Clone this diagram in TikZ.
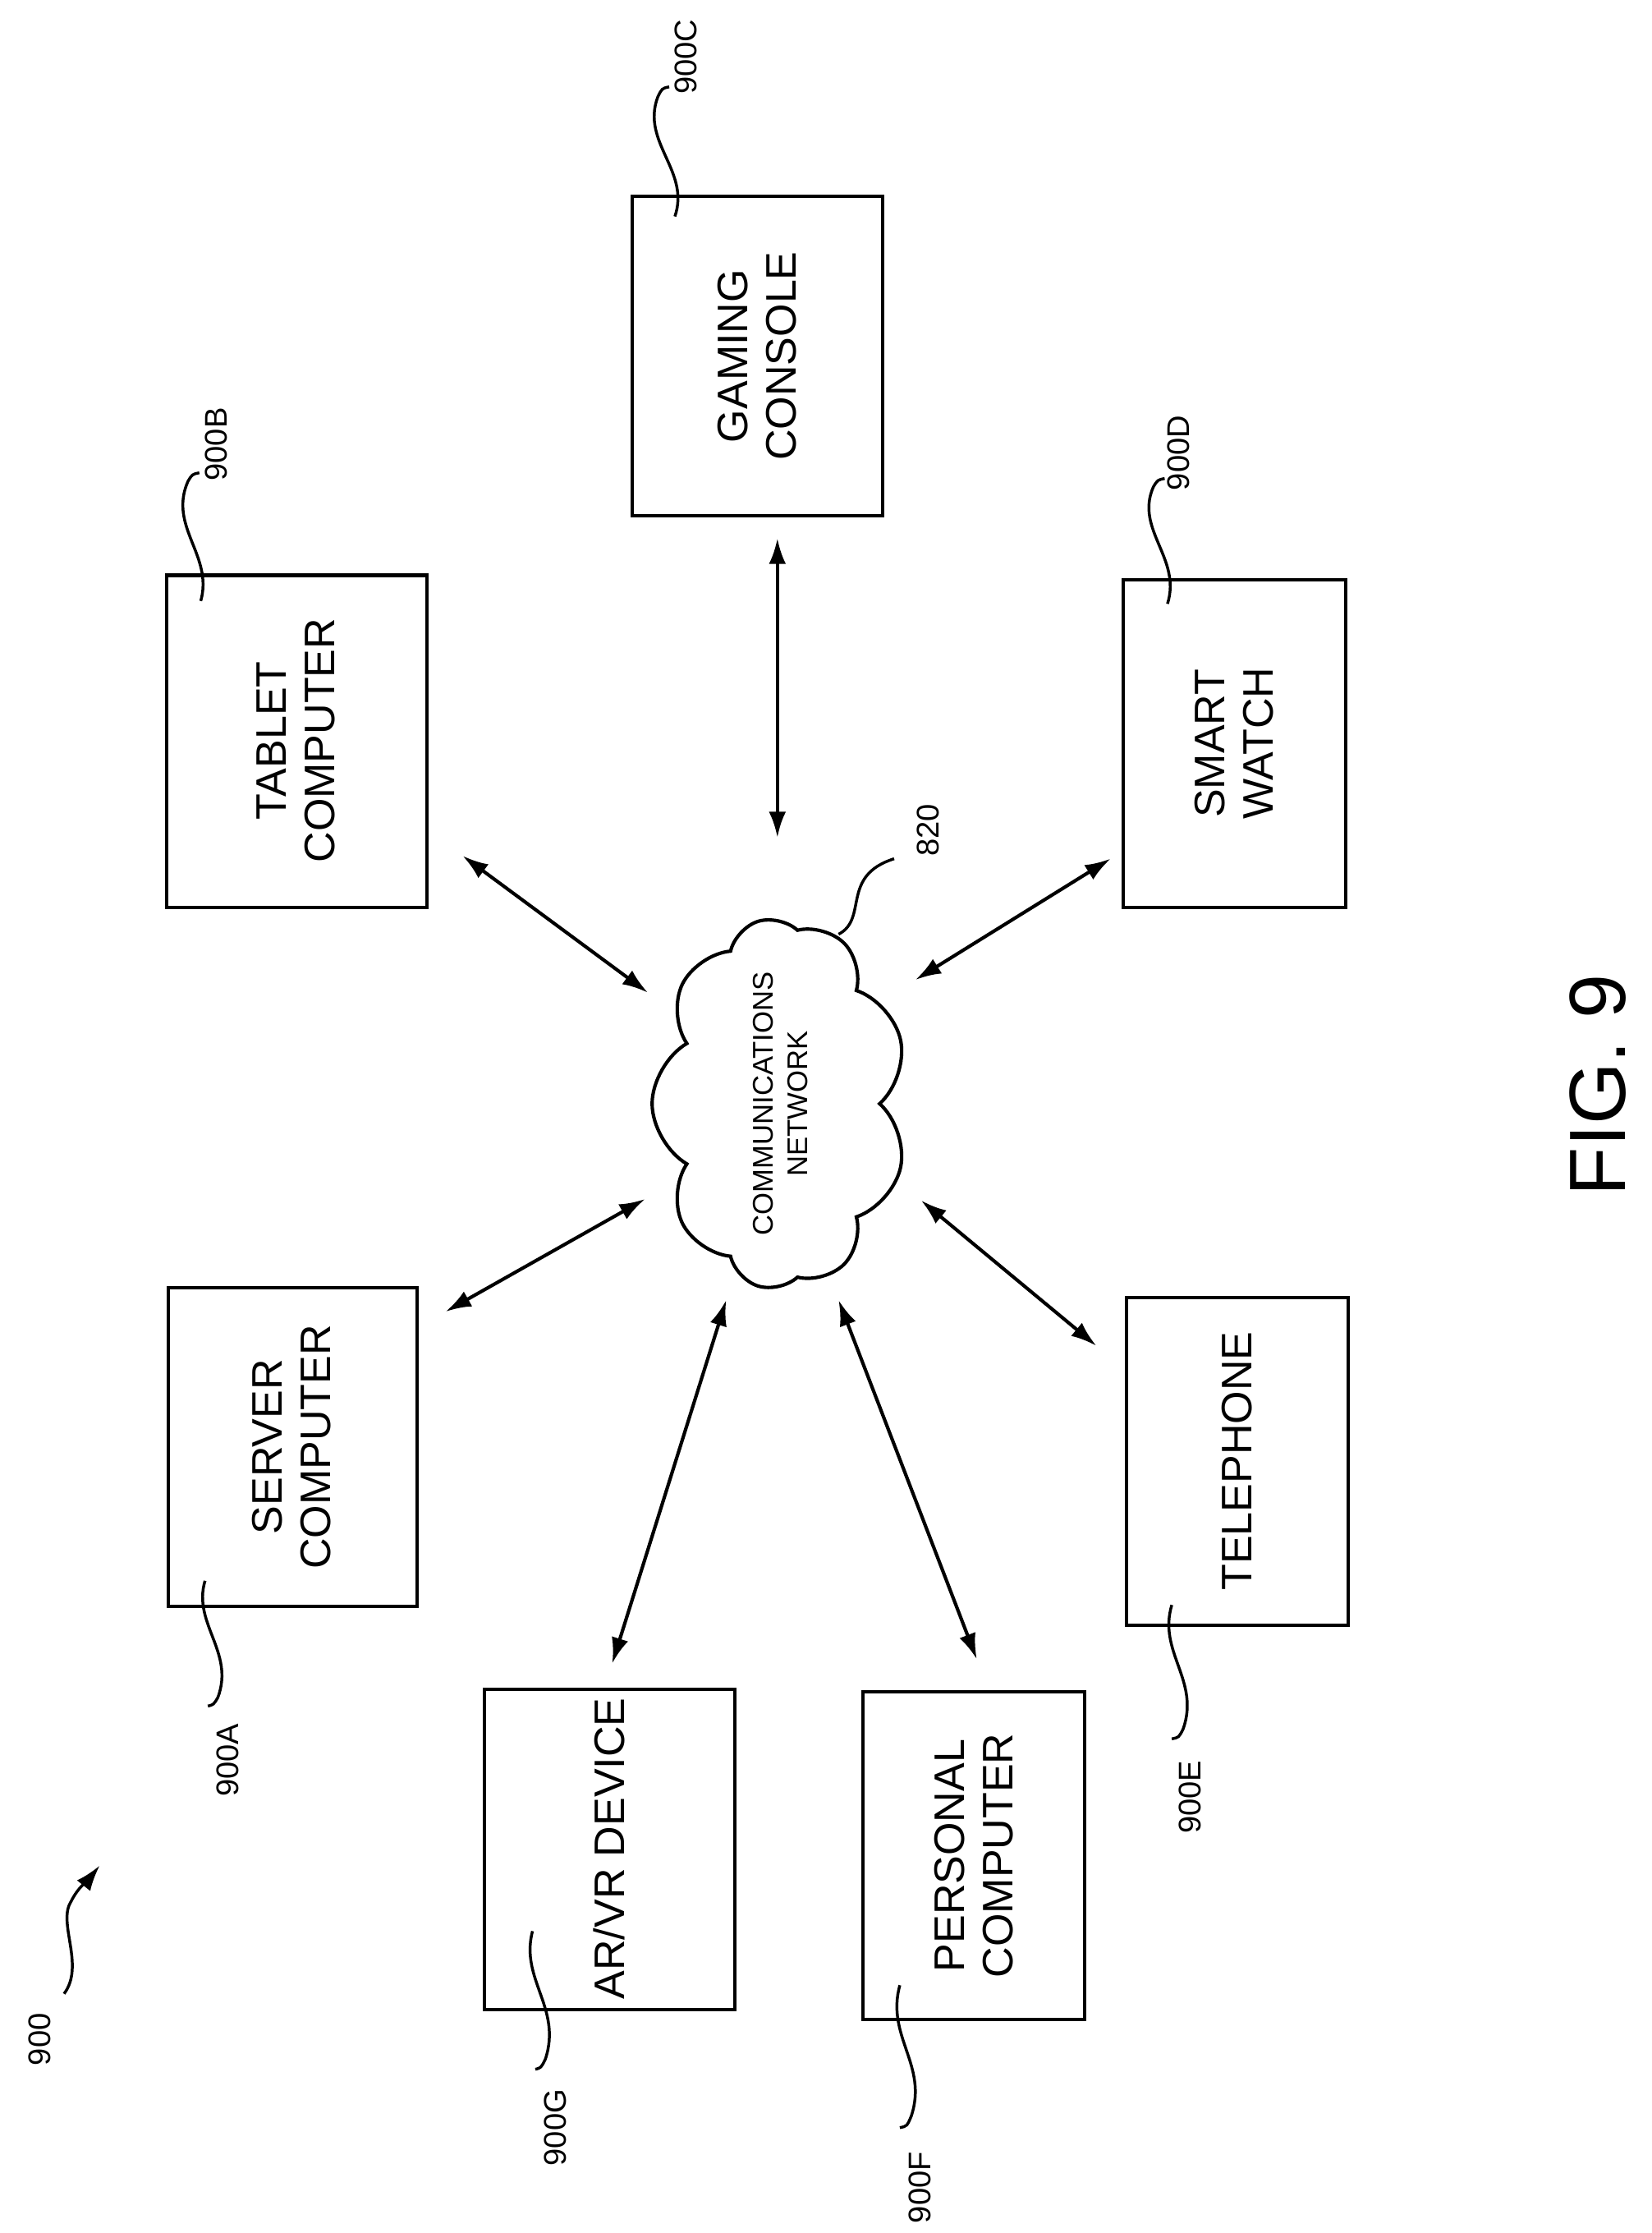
\documentclass[tikz,border=0pt]{standalone}
\usepackage{fontspec}
\setmainfont{Liberation Sans}
\usetikzlibrary{shapes.symbols,arrows.meta}
\begin{document}
\begin{tikzpicture}[x=0.5pt,y=-0.5pt,
 box/.style={draw,line width=1.2pt,inner sep=0pt},
 txt/.style={rotate=90,align=center,font=\fontsize{15}{17}\selectfont},
 lab/.style={rotate=90,font=\fontsize{11}{13}\selectfont},
 arr/.style={line width=1.2pt,{Latex[length=9pt,width=6pt]}-{Latex[length=9pt,width=6pt]}},
 ld/.style={line width=1pt}]
\useasboundingbox (0,0) rectangle (1160,1568);
\draw[box] (117,404) rectangle (300,637); \node[txt] (tab) at (208,520) {TABLET\\COMPUTER};
\draw[box] (444,138) rectangle (620,362); \node[txt] (gam) at (532,250) {GAMING\\CONSOLE};
\draw[box] (789,407) rectangle (945,637); \node[txt] (sw) at (867,522) {SMART\\WATCH};
\draw[box] (118,904) rectangle (293,1128); \node[txt] (srv) at (205,1016) {SERVER\\COMPUTER};
\draw[box] (791,911) rectangle (947,1141); \node[txt] (tel) at (869,1026) {TELEPHONE};
\draw[box] (340,1186) rectangle (516,1411); \node[txt] (ar) at (428,1298) {AR/VR DEVICE};
\draw[box] (606,1188) rectangle (762,1418); \node[txt] (pc) at (684,1303) {PERSONAL\\COMPUTER};
\node[draw,line width=1.2pt,cloud,cloud puffs=9,cloud puff arc=120,rotate=90,minimum width=130pt,minimum height=90pt,inner sep=0pt] (net) at (548,775) {};
\node[txt,font=\fontsize{10}{12}\selectfont] at (548,775) {COMMUNICATIONS\\NETWORK};
\coordinate (g1) at (546,378); \coordinate (g2) at (546,588);
\coordinate (t1) at (325,601); \coordinate (t2) at (455,697);
\coordinate (s1) at (780,603); \coordinate (s2) at (643,688);
\coordinate (v1) at (313,921); \coordinate (v2) at (453,842);
\coordinate (e1) at (770,945); \coordinate (e2) at (647,843);
\coordinate (a1) at (510,913); \coordinate (a2) at (430,1168);
\coordinate (p1) at (589,913); \coordinate (p2) at (686,1165);
\foreach \a/\b in {g1/g2,t1/t2,s1/s2,v1/v2,e1/e2,a1/a2,p1/p2} \draw[arr] (\a) -- (\b);
\node[lab] (lB) at (152,312) {900B};
\node[lab] (lC) at (482,40) {900C};
\node[lab] (lD) at (828,318) {900D};
\node[lab] (l8) at (652,583) {820};
\node[lab] (lA) at (160,1236) {900A};
\node[lab] (lG) at (390,1494) {900G};
\node[lab] (lF) at (646,1536) {900F};
\node[lab] (lE) at (836,1262) {900E};
\node[lab] (l9) at (28,1432) {900};
\node[rotate=90,font=\fontsize{28}{30}\selectfont] (fig) at (1122,762) {FIG. 9};
\draw[ld] (141,422) .. controls (150,390) and (118,370) .. (132,338) .. controls (135,333) .. (140,332);
\draw[ld] (474,152) .. controls (485,120) and (450,100) .. (462,68) .. controls (465,62) .. (470,61);
\draw[ld] (820,424) .. controls (830,392) and (797,372) .. (810,342) .. controls (813,337) .. (818,336);
\draw[ld] (589,656) .. controls (610,645) and (590,615) .. (628,603);
\draw[ld] (144,1110) .. controls (135,1140) and (165,1160) .. (153,1192) .. controls (150,1197) .. (146,1198);
\draw[ld] (374,1356) .. controls (365,1390) and (395,1410) .. (383,1446) .. controls (380,1452) .. (376,1453);
\draw[ld] (632,1394) .. controls (622,1430) and (652,1450) .. (640,1486) .. controls (637,1493) .. (632,1494);
\draw[ld] (823,1127) .. controls (813,1160) and (843,1180) .. (831,1214) .. controls (828,1220) .. (823,1221);
\draw[ld,-{Latex[length=9pt,width=6pt]}] (45,1400) .. controls (60,1380) and (40,1350) .. (50,1335) .. controls (55,1325) and (62,1320) .. (70,1310);
\end{tikzpicture}
\end{document}
